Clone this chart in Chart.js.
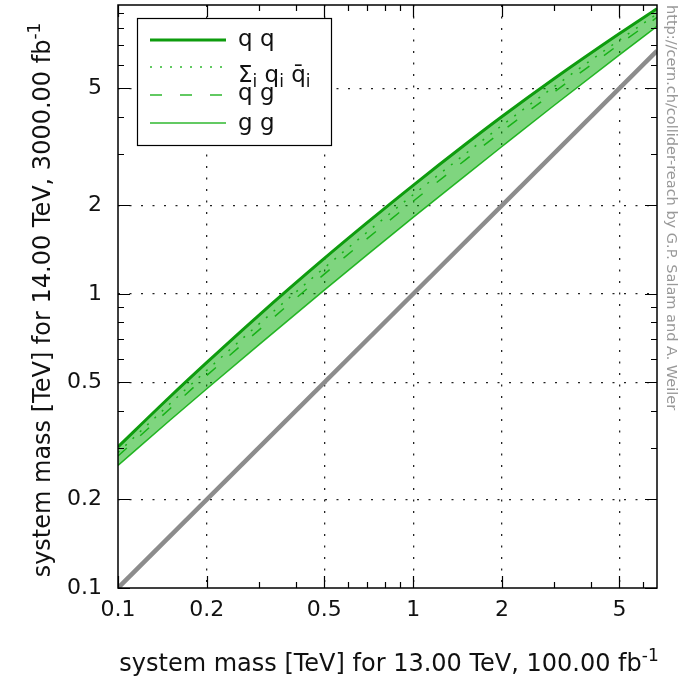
<!DOCTYPE html>
<html>
<head>
<meta charset="utf-8">
<script src="https://cdn.jsdelivr.net/npm/chart.js"></script>
<style>
  body { margin: 0; background: #fff; }
  #wrap { width: 680px; height: 678px; }
</style>
</head>
<body>
<div id="wrap"><canvas id="reach"></canvas></div>
<script>
// system mass at 13 TeV / 100 fb-1 (x) and the equivalent reach at 14 TeV / 3000 fb-1 (y), TeV
const mass13 = [0.1, 0.15, 0.2, 0.3, 0.5, 0.7, 1, 1.5, 2, 3, 5, 6.7];
const reachQQ = [0.302, 0.447, 0.585, 0.846, 1.32, 1.75, 2.34, 3.22, 4.01, 5.39, 7.68, 9.33];
const reachQQbar = [0.289, 0.423, 0.550, 0.789, 1.226, 1.625, 2.173, 2.99, 3.74, 5.06, 7.30, 8.95];
const reachQG = [0.281, 0.407, 0.528, 0.753, 1.167, 1.544, 2.065, 2.85, 3.57, 4.85, 7.06, 8.71];
const reachGG = [0.261, 0.372, 0.476, 0.671, 1.03, 1.36, 1.82, 2.52, 3.17, 4.37, 6.50, 8.12];
const diagonal = [0.1, 6.7];

const labelTicks = [0.1, 0.2, 0.5, 1, 2, 5];
const xMinorTicks = [0.3, 0.4, 0.6, 0.7, 0.8, 0.9, 3, 4, 6];
const yMinorTicks = [0.3, 0.4, 0.6, 0.7, 0.8, 0.9, 3, 4, 6, 7, 8, 9];

const FONT = '"DejaVu Sans", sans-serif';
const pts = (ys) => mass13.map((m, i) => ({ x: m, y: ys[i] }));

const gridColor = (ctx) =>
  labelTicks.includes(ctx.tick.value) && ctx.tick.value !== 0.1 ? '#222' : 'rgba(0,0,0,0)';

function drawParts(ctx, parts, x, y, size) {
  // text with sub/superscripts, piece by piece
  for (const p of parts) {
    const s = p.sub || p.sup ? Math.round(size * 0.72) : size;
    ctx.font = s + 'px ' + FONT;
    const dy = p.sub ? size * 0.3 : p.sup ? -size * 0.42 : 0;
    ctx.fillText(p.t, x, y + dy);
    x += ctx.measureText(p.t).width;
  }
  return x;
}
function partsWidth(ctx, parts, size) {
  let w = 0;
  for (const p of parts) {
    const s = p.sub || p.sup ? Math.round(size * 0.72) : size;
    ctx.font = s + 'px ' + FONT;
    w += ctx.measureText(p.t).width;
  }
  return w;
}

const legendLabels = [
  [{ t: 'q q' }],
  [{ t: 'Σ' }, { t: 'i', sub: true }, { t: ' q' }, { t: 'i', sub: true }, { t: ' q\u0304' }, { t: 'i', sub: true }],
  [{ t: 'q g' }],
  [{ t: 'g g' }]
];

const frame = {
  id: 'frame',
  afterDatasetsDraw(chart) {
    const ctx = chart.ctx;
    ctx.save();
    // legend box
    ctx.fillStyle = '#fff';
    ctx.fillRect(137, 18, 194, 127);
    ctx.strokeStyle = '#000';
    ctx.lineWidth = 1.2;
    ctx.strokeRect(137.5, 18.5, 194, 127);
    const rows = [40, 67, 95, 123];
    const textY = [40, 76, 94, 124];
    chart.data.datasets.slice(0, 4).forEach((ds, i) => {
      ctx.strokeStyle = ds.borderColor;
      ctx.lineWidth = ds.borderWidth;
      ctx.setLineDash(ds.borderDash || []);
      ctx.beginPath();
      ctx.moveTo(150, rows[i]);
      ctx.lineTo(226, rows[i]);
      ctx.stroke();
      ctx.setLineDash([]);
      ctx.fillStyle = '#111';
      ctx.textBaseline = 'middle';
      ctx.textAlign = 'left';
      drawParts(ctx, legendLabels[i], 238, textY[i], 23);
    });
    ctx.restore();
  },
  afterDraw(chart) {
    const ctx = chart.ctx;
    const a = chart.chartArea;
    const xs = chart.scales.x, ys = chart.scales.y;
    ctx.save();
    ctx.strokeStyle = '#000';
    ctx.lineWidth = 1.5;
    ctx.strokeRect(a.left, a.top, a.right - a.left, a.bottom - a.top);
    // inward tick marks on all four sides
    ctx.lineWidth = 1.2;
    ctx.beginPath();
    const xt = labelTicks.map(v => [v, 12]).concat(xMinorTicks.map(v => [v, 6]));
    for (const [v, len] of xt) {
      const px = Math.round(xs.getPixelForValue(v)) + 0.5;
      ctx.moveTo(px, a.bottom); ctx.lineTo(px, a.bottom - len);
      ctx.moveTo(px, a.top); ctx.lineTo(px, a.top + len);
    }
    const yt = labelTicks.map(v => [v, 12]).concat(yMinorTicks.map(v => [v, 6]));
    for (const [v, len] of yt) {
      const py = Math.round(ys.getPixelForValue(v)) + 0.5;
      ctx.moveTo(a.left, py); ctx.lineTo(a.left + len, py);
      ctx.moveTo(a.right, py); ctx.lineTo(a.right - len, py);
    }
    ctx.stroke();

    // axis titles
    ctx.fillStyle = '#111';
    ctx.textBaseline = 'alphabetic';
    ctx.textAlign = 'left';
    const xTitle = [{ t: 'system mass [TeV] for 13.00 TeV, 100.00 fb' }, { t: '-1', sup: true }];
    const yTitle = [{ t: 'system mass [TeV] for 14.00 TeV, 3000.00 fb' }, { t: '-1', sup: true }];
    let w = partsWidth(ctx, xTitle, 24);
    drawParts(ctx, xTitle, 389 - w / 2, 671, 24);
    ctx.translate(50, 300);
    ctx.rotate(-Math.PI / 2);
    w = partsWidth(ctx, yTitle, 24);
    drawParts(ctx, yTitle, -w / 2, 0, 24);
    ctx.restore();

    // credit line down the right-hand side
    ctx.save();
    ctx.translate(667, 5);
    ctx.rotate(Math.PI / 2);
    ctx.fillStyle = '#999';
    ctx.font = '14.5px ' + FONT;
    ctx.textBaseline = 'alphabetic';
    ctx.fillText('http://cern.ch/collider-reach by G.P. Salam and A. Weiler', 0, 0);
    ctx.restore();
  }
};

new Chart(document.getElementById('reach'), {
  type: 'line',
  data: {
    datasets: [
      {
        label: 'q q', data: pts(reachQQ),
        borderColor: '#0e9c0e', borderWidth: 3,
        backgroundColor: 'rgba(0,172,0,0.5)', fill: 3
      },
      {
        label: 'Σi qi q̄i', data: pts(reachQQbar),
        borderColor: '#2fb82f', borderWidth: 1.5, borderDash: [2, 8]
      },
      {
        label: 'q g', data: pts(reachQG),
        borderColor: '#2fb82f', borderWidth: 1.5, borderDash: [12, 18]
      },
      {
        label: 'g g', data: pts(reachGG),
        borderColor: '#2fb82f', borderWidth: 1.5
      },
      {
        label: 'same mass', data: diagonal.map(m => ({ x: m, y: m })),
        borderColor: '#8c8c8c', borderWidth: 4.5
      }
    ]
  },
  options: {
    responsive: true,
    maintainAspectRatio: false,
    animation: false,
    layout: { padding: { top: 5, right: 23, left: 0, bottom: 0 } },
    elements: {
      point: { radius: 0 },
      line: { cubicInterpolationMode: 'monotone' }
    },
    plugins: {
      legend: { display: false },
      tooltip: { enabled: false }
    },
    scales: {
      x: {
        type: 'logarithmic',
        min: 0.1, max: 6.7,
        afterBuildTicks: (s) => { s.ticks = labelTicks.map(v => ({ value: v })); },
        afterFit: (s) => { s.height = 90; s.paddingLeft = 0; s.paddingRight = 0; },
        grid: { color: gridColor, lineWidth: 1.3, drawTicks: false },
        border: { display: false, dash: [2, 9.5] },
        ticks: {
          color: '#111', font: { family: FONT, size: 22 }, padding: 9,
          autoSkip: false, maxRotation: 0,
          callback: (v) => String(v)
        }
      },
      y: {
        type: 'logarithmic',
        min: 0.1, max: 9.6,
        afterBuildTicks: (s) => { s.ticks = labelTicks.map(v => ({ value: v })); },
        afterFit: (s) => { s.width = 118; s.paddingTop = 0; s.paddingBottom = 0; },
        grid: { color: gridColor, lineWidth: 1.3, drawTicks: false },
        border: { display: false, dash: [2, 9.5] },
        ticks: {
          color: '#111', font: { family: FONT, size: 22 }, padding: 16,
          autoSkip: false,
          callback: (v) => String(v)
        }
      }
    }
  },
  plugins: [frame]
});
</script>
</body>
</html>
